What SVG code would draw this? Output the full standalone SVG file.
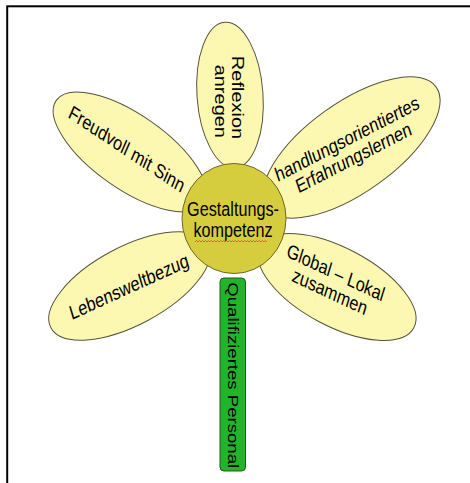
<svg xmlns="http://www.w3.org/2000/svg" width="470" height="483" viewBox="0 0 470 483">
<style>
.petal{fill:#fcf8b2;stroke:#55533a;stroke-width:1}
.core{fill:#d6cd3e;stroke:#6e6726;stroke-width:1}
.stem{fill:#22b42a;stroke:#1d5c1d;stroke-width:1}
.t{font-family:"Liberation Sans",Arial,sans-serif;font-size:20px;fill:#000;text-anchor:middle}
.ts{font-size:18.6px}
</style>
<rect x="7.2" y="6.3" width="480" height="490" fill="none" stroke="#000" stroke-width="2"/>
<g id="connectors"></g>
<g id="petal-reflexion">
<ellipse class="petal" cx="230" cy="95" rx="33" ry="73" transform="rotate(-4 230 95)"/>
<g transform="translate(231.5 97.5) scale(0.81 1) rotate(90)"><text class="t" x="0" y="0">Reflexion</text><text class="t" x="3.8" y="20.5">anregen</text></g>
</g>
<g id="petal-freudvoll">
<ellipse class="petal" cx="130" cy="152" rx="90" ry="37" transform="rotate(35 130 152)"/>
<g transform="translate(124.2 155) scale(0.81 1) rotate(28.4)"><text class="t" x="0" y="0">Freudvoll mit Sinn</text></g>
</g>
<g id="petal-handlung">
<ellipse class="petal" cx="351.5" cy="147.5" rx="104" ry="45" transform="rotate(-35.5 351.5 147.5)"/>
<g transform="translate(349.2 145) scale(0.81 1) rotate(-22.8)"><text class="t" x="0" y="0">handlungsorientiertes</text><text class="t" x="0" y="20.5">Erfahrungslernen</text></g>
</g>
<g id="petal-lebenswelt">
<ellipse class="petal" cx="129.5" cy="286" rx="89" ry="39" transform="rotate(-28 129.5 286)"/>
<g transform="translate(130.8 293) scale(0.81 1) rotate(-20.3)"><text class="t" x="0" y="0">Lebensweltbezug</text></g>
</g>
<g id="petal-global">
<ellipse class="petal" cx="337" cy="287" rx="87" ry="39" transform="rotate(28 337 287)"/>
<g transform="translate(333.8 279) scale(0.81 1) rotate(20.8)"><text class="t" x="0" y="0">Global – Lokal</text><text class="t" x="0" y="20.5">zusammen</text></g>
</g>
<g id="stem">
<rect class="stem" x="220" y="278" width="25.5" height="193" rx="4" ry="4"/>
<g transform="translate(227.5 375.2) scale(0.81 1) rotate(90)"><text class="t ts" x="0" y="0">Qualifiziertes Personal</text></g>
</g>
<g id="center">
<ellipse class="core" cx="234" cy="218.5" rx="52" ry="55"/>
<g transform="translate(233 0) scale(0.81 1)"><text class="t" x="0" y="216">Gestaltungs-</text><text class="t" x="0" y="236.7">kompetenz</text></g>
<path d="M195 242 l1.5 -1.5 1.5 1.5 1.5 -1.5 1.5 1.5 1.5 -1.5 1.5 1.5 1.5 -1.5 1.5 1.5 1.5 -1.5 1.5 1.5 1.5 -1.5 1.5 1.5 1.5 -1.5 1.5 1.5 1.5 -1.5 1.5 1.5 1.5 -1.5 1.5 1.5 1.5 -1.5 1.5 1.5 1.5 -1.5 1.5 1.5 1.5 -1.5 1.5 1.5 1.5 -1.5 1.5 1.5 1.5 -1.5 1.5 1.5 1.5 -1.5 1.5 1.5 1.5 -1.5 1.5 1.5 1.5 -1.5 1.5 1.5 1.5 -1.5 1.5 1.5 1.5 -1.5 1.5 1.5 1.5 -1.5 1.5 1.5 1.5 -1.5 1.5 1.5 1.5 -1.5 1.5 1.5 1.5 -1.5 1.5 1.5 1.5 -1.5 1.5 1.5" fill="none" stroke="#e2482a" stroke-width="0.8"/>
</g>
</svg>
